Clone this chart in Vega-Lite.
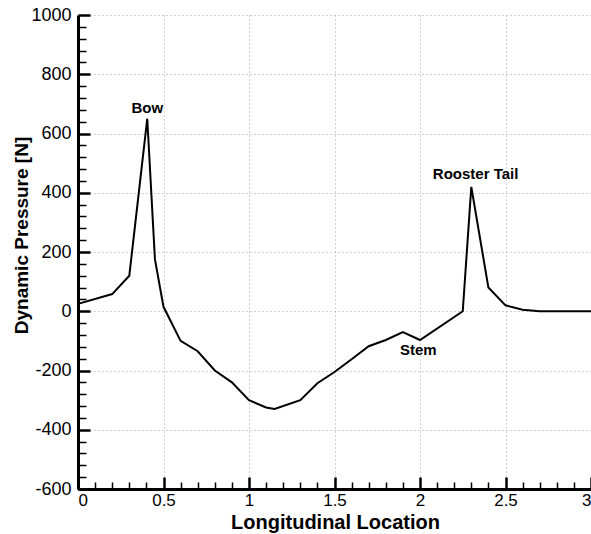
{
  "$schema": "https://vega.github.io/schema/vega-lite/v6.json",
  "width": 513,
  "height": 474,
  "autosize": {"type": "none"},
  "padding": {"left": 78, "top": 15, "right": 0, "bottom": 45},
  "background": "white",
  "config": {"view": {"stroke": null}, "font": "Liberation Sans"},
  "datasets": {
    "curve": [
      {"x": 0, "p": 25}, {"x": 0.2, "p": 58}, {"x": 0.3, "p": 120}, {"x": 0.405, "p": 650},
      {"x": 0.45, "p": 175}, {"x": 0.5, "p": 15}, {"x": 0.6, "p": -100}, {"x": 0.7, "p": -135},
      {"x": 0.8, "p": -200}, {"x": 0.9, "p": -240}, {"x": 1.0, "p": -300}, {"x": 1.1, "p": -325},
      {"x": 1.15, "p": -330}, {"x": 1.3, "p": -300}, {"x": 1.4, "p": -243}, {"x": 1.5, "p": -205},
      {"x": 1.6, "p": -162}, {"x": 1.7, "p": -118}, {"x": 1.8, "p": -97}, {"x": 1.9, "p": -70},
      {"x": 2.0, "p": -97}, {"x": 2.25, "p": 0}, {"x": 2.3, "p": 420}, {"x": 2.4, "p": 80},
      {"x": 2.5, "p": 20}, {"x": 2.6, "p": 5}, {"x": 2.7, "p": 0}, {"x": 3.0, "p": 0}
    ],
    "notes": [
      {"x": 0.405, "p": 686, "label": "Bow"},
      {"x": 2.325, "p": 463, "label": "Rooster Tail"},
      {"x": 1.99, "p": -131, "label": "Stem"}
    ]
  },
  "layer": [
    {
      "data": {"name": "curve"},
      "mark": {"type": "line", "opacity": 0},
      "encoding": {
        "x": {"field": "x", "type": "quantitative", "scale": {"domain": [0, 3], "nice": false},
          "axis": {"orient": "bottom", "values": [0, 0.5, 1, 1.5, 2, 2.5, 3], "labels": false, "ticks": false,
            "domainColor": "black", "domainWidth": 3,
            "grid": true, "gridColor": "#a0a0a0", "gridDash": [1, 3], "gridWidth": 1,
            "title": "Longitudinal Location", "titleFontSize": 20, "titleFontWeight": "bold", "titleColor": "black", "titleFont": "Liberation Sans",
            "titleX": 257, "titleY": 39, "titleAlign": "center", "titleBaseline": "alphabetic", "titleAngle": 0}},
        "y": {"field": "p", "type": "quantitative", "scale": {"domain": [-600, 1000], "nice": false},
          "axis": {"orient": "left", "values": [-600, -400, -200, 0, 200, 400, 600, 800, 1000], "labels": false, "ticks": false,
            "domainColor": "black", "domainWidth": 3,
            "grid": true, "gridColor": "#a0a0a0", "gridDash": [1, 3], "gridWidth": 1,
            "title": "Dynamic Pressure [N]", "titleFontSize": 19, "titleFontWeight": "bold", "titleColor": "black", "titleFont": "Liberation Sans",
            "titleX": -51, "titleY": 220, "titleAlign": "center", "titleBaseline": "alphabetic", "titleAngle": -90}}
      }
    },
    {
      "data": {"name": "curve"},
      "mark": {"type": "line", "opacity": 0},
      "encoding": {
        "x": {"field": "x", "type": "quantitative", "scale": {"domain": [0, 3], "nice": false},
          "axis": {"orient": "bottom", "values": [0.1,0.2,0.3,0.4,0.6,0.7,0.8,0.9,1.1,1.2,1.3,1.4,1.6,1.7,1.8,1.9,2.1,2.2,2.3,2.4,2.6,2.7,2.8,2.9],
            "labels": false, "domain": false, "grid": false, "offset": -7, "tickSize": 7, "tickWidth": 1.5, "tickColor": "black", "title": null}},
        "y": {"field": "p", "type": "quantitative", "scale": {"domain": [-600, 1000], "nice": false},
          "axis": {"orient": "left", "values": [-560,-520,-480,-440,-360,-320,-280,-240,-160,-120,-80,-40,40,80,120,160,240,280,320,360,440,480,520,560,640,680,720,760,840,880,920,960],
            "labels": false, "domain": false, "grid": false, "offset": -8, "tickSize": 8, "tickWidth": 1.5, "tickColor": "black", "title": null}}
      }
    },
    {
      "data": {"name": "curve"},
      "mark": {"type": "line", "color": "black", "strokeWidth": 2},
      "encoding": {
        "x": {"field": "x", "type": "quantitative", "scale": {"domain": [0, 3], "nice": false},
          "axis": {"orient": "bottom", "values": [0, 0.5, 1, 1.5, 2, 2.5, 3], "labelExpr": "'' + datum.value",
            "domain": false, "grid": false, "offset": -12, "tickSize": 12, "tickColor": "black", "tickWidth": 2.5,
            "labelFontSize": 17, "labelColor": "black", "labelPadding": 3, "labelFont": "Liberation Sans", "title": null}},
        "y": {"field": "p", "type": "quantitative", "scale": {"domain": [-600, 1000], "nice": false},
          "axis": {"orient": "left", "values": [-600, -400, -200, 0, 200, 400, 600, 800, 1000], "labelExpr": "'' + datum.value",
            "domain": false, "grid": false, "offset": -12, "tickSize": 12, "tickColor": "black", "tickWidth": 2.5,
            "labelFontSize": 18, "labelColor": "black", "labelPadding": 7, "labelFont": "Liberation Sans", "title": null}}
      }
    },
    {
      "mark": {"type": "rule", "color": "black", "strokeWidth": 1},
      "encoding": {"y": {"datum": 0, "type": "quantitative", "scale": {"domain": [-600, 1000], "nice": false}, "axis": null}}
    },
    {
      "mark": {"type": "rule", "color": "black", "strokeWidth": 3},
      "encoding": {"y": {"datum": 1000, "type": "quantitative", "scale": {"domain": [-600, 1000], "nice": false}, "axis": null}}
    },
    {
      "data": {"name": "notes"},
      "mark": {"type": "text", "fontWeight": "bold", "fontSize": 15, "color": "black", "font": "Liberation Sans"},
      "encoding": {
        "x": {"field": "x", "type": "quantitative", "scale": {"domain": [0, 3], "nice": false}, "axis": null},
        "y": {"field": "p", "type": "quantitative", "scale": {"domain": [-600, 1000], "nice": false}, "axis": null},
        "text": {"field": "label"}
      }
    }
  ],
  "resolve": {"axis": {"x": "independent", "y": "independent"}}
}
